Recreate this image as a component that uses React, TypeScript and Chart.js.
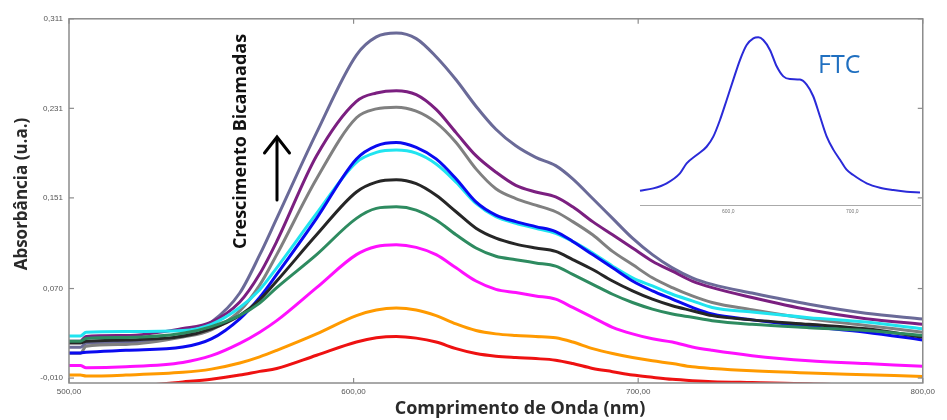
import React, { useEffect, useRef } from "react";
import { Chart, registerables } from "chart.js";

Chart.register(...registerables);

// Wavelength grid (nm)
const wavelengths = [500, 504, 506, 520, 540, 550, 560, 567, 573, 587, 601, 608, 615, 622, 629, 636, 643, 650, 657, 664, 671, 677, 684, 691, 698, 705, 712, 719, 726, 740, 760, 780, 800];

// Absorbance per deposited bilayer (lowest to highest)
const redSeries = [-0.02, -0.02, -0.02, -0.018, -0.0135, -0.011, -0.0073, -0.004, -0.0014, 0.0104, 0.0222, 0.026, 0.0272, 0.0257, 0.0222, 0.0163, 0.0119, 0.0095, 0.0083, 0.0074, 0.006, 0.003, -0.0014, -0.0043, -0.0073, -0.0093, -0.0111, -0.0123, -0.0132, -0.014, -0.015, -0.017, -0.019];
const orangeSeries = [-0.0073, -0.0073, -0.0082, -0.0073, -0.0049, -0.002, 0.0035, 0.009, 0.0148, 0.0295, 0.0458, 0.0508, 0.0525, 0.0508, 0.0458, 0.0384, 0.0325, 0.0295, 0.0281, 0.0272, 0.026, 0.0222, 0.0163, 0.0119, 0.0083, 0.0054, 0.003, 0.0001, -0.0014, -0.0035, -0.0055, -0.007, -0.0085];
const magentaSeries = [0.0013, 0.0013, -0.0008, 0.0001, 0.004, 0.01, 0.021, 0.031, 0.0413, 0.0708, 0.1003, 0.1076, 0.1091, 0.1068, 0.1003, 0.0885, 0.0767, 0.0693, 0.0664, 0.0634, 0.0605, 0.0531, 0.0443, 0.0354, 0.0295, 0.0251, 0.0222, 0.0178, 0.0148, 0.01, 0.0055, 0.003, 0.0005];
const greenSeries = [0.0228, 0.0228, 0.0254, 0.0263, 0.03, 0.036, 0.046, 0.057, 0.0708, 0.1003, 0.1327, 0.1416, 0.143, 0.1401, 0.1312, 0.118, 0.1062, 0.0988, 0.0958, 0.0929, 0.09, 0.0826, 0.0738, 0.0649, 0.0575, 0.0516, 0.0472, 0.0443, 0.0413, 0.038, 0.035, 0.0325, 0.028];
const blackSeries = [0.0213, 0.0213, 0.0228, 0.0241, 0.0273, 0.034, 0.046, 0.06, 0.0767, 0.118, 0.1563, 0.1651, 0.1672, 0.1637, 0.1533, 0.1386, 0.1239, 0.115, 0.1097, 0.1062, 0.1032, 0.0959, 0.087, 0.0767, 0.0679, 0.0605, 0.0546, 0.0502, 0.0458, 0.042, 0.038, 0.034, 0.0266];
const blueSeries = [0.0125, 0.0125, 0.0131, 0.0148, 0.0177, 0.025, 0.043, 0.062, 0.0826, 0.1327, 0.1858, 0.1975, 0.2005, 0.1961, 0.1858, 0.1681, 0.1474, 0.1356, 0.1298, 0.1253, 0.1209, 0.1121, 0.1003, 0.0885, 0.0767, 0.0679, 0.0605, 0.0531, 0.0472, 0.042, 0.036, 0.031, 0.024];
const cyanSeries = [0.0276, 0.0276, 0.031, 0.0316, 0.0325, 0.038, 0.053, 0.069, 0.0885, 0.1371, 0.1828, 0.1916, 0.1937, 0.191, 0.1813, 0.1651, 0.146, 0.1342, 0.1283, 0.1239, 0.1194, 0.1121, 0.1017, 0.09, 0.0796, 0.0723, 0.0649, 0.059, 0.0531, 0.049, 0.044, 0.04, 0.034];
const graySeries = [0.0122, 0.0122, 0.0184, 0.0201, 0.0266, 0.033, 0.05, 0.073, 0.1003, 0.1681, 0.2226, 0.2305, 0.232, 0.2285, 0.2182, 0.2005, 0.1769, 0.1592, 0.1504, 0.1445, 0.1386, 0.1298, 0.118, 0.1032, 0.0914, 0.0796, 0.0708, 0.0634, 0.0575, 0.051, 0.043, 0.037, 0.031];
const purpleSeries = [0.023, 0.023, 0.0272, 0.028, 0.0343, 0.04, 0.058, 0.083, 0.1121, 0.1887, 0.2373, 0.2447, 0.2468, 0.2432, 0.23, 0.2093, 0.1887, 0.174, 0.1622, 0.1563, 0.1519, 0.143, 0.1298, 0.118, 0.1062, 0.0944, 0.0855, 0.0767, 0.0708, 0.062, 0.051, 0.043, 0.038];
const slateSeries = [0.0175, 0.0175, 0.021, 0.022, 0.028, 0.04, 0.066, 0.1, 0.1327, 0.2093, 0.2786, 0.2948, 0.2983, 0.2933, 0.2771, 0.2565, 0.2329, 0.2123, 0.1975, 0.1872, 0.1798, 0.168, 0.1504, 0.1327, 0.115, 0.1003, 0.0885, 0.0796, 0.0737, 0.066, 0.056, 0.048, 0.0428];

const seriesLabels = ["1", "2", "3", "4", "5", "6", "7", "8", "9", "10"];
const seriesColors = ["#ee1111", "#ff9a00", "#ff10ff", "#2e8b60", "#262626", "#0a0af0", "#20e4f0", "#808080", "#7b1f80", "#6a6a98"];
const seriesValues = [redSeries, orangeSeries, magentaSeries, greenSeries, blackSeries, blueSeries, cyanSeries, graySeries, purpleSeries, slateSeries];

const xTicks = [500, 600, 700, 800];
const yTicks = [0.311, 0.231, 0.151, 0.07, -0.01];

// Inset: FTC spectrum (normalised)
const insetWavelengths = [528.8, 539.5, 550.3, 561.0, 566.4, 574.5, 582.5, 587.9, 593.3, 598.7, 604.0, 609.4, 614.8, 620.2, 624.2, 628.2, 633.6, 639.0, 644.4, 649.7, 657.8, 663.2, 668.5, 673.9, 679.3, 684.7, 690.1, 695.4, 700.8, 711.6, 722.3, 733.1, 743.8, 754.6];
const insetFTC = [0.089, 0.103, 0.133, 0.192, 0.251, 0.301, 0.35, 0.41, 0.509, 0.628, 0.747, 0.865, 0.954, 0.994, 1.0, 0.984, 0.925, 0.828, 0.768, 0.752, 0.749, 0.719, 0.65, 0.531, 0.412, 0.333, 0.273, 0.214, 0.182, 0.133, 0.107, 0.093, 0.083, 0.079];
const insetTicks = [600, 700];

const comma = (v: number, d: number) => v.toFixed(d).replace(".", ",");

const framePlugin = {
  id: "framePlugin",
  afterDraw(chart: any) {
    const { ctx, chartArea: a, scales } = chart;
    ctx.save();
    ctx.strokeStyle = "#8c8c8c";
    ctx.lineWidth = 1.5;
    ctx.strokeRect(a.left, a.top, a.right - a.left, a.bottom - a.top);
    ctx.lineWidth = 1.2;
    const line = (x1: number, y1: number, x2: number, y2: number) => {
      ctx.beginPath();
      ctx.moveTo(x1, y1);
      ctx.lineTo(x2, y2);
      ctx.stroke();
    };
    for (const v of yTicks) {
      const y = scales.y.getPixelForValue(v);
      line(a.left, y, a.left + 5, y);
      line(a.right - 5, y, a.right, y);
    }
    for (const v of xTicks) {
      const x = scales.x.getPixelForValue(v);
      line(x, a.bottom, x, a.bottom - 5);
      line(x, a.top, x, a.top + 5);
    }

    // axis titles
    ctx.fillStyle = "#2a2a2a";
    ctx.textAlign = "center";
    ctx.textBaseline = "middle";
    ctx.font = 'bold 18px "Open Sans"';
    ctx.fillText("Comprimento de Onda (nm)", 512, 401);
    ctx.save();
    ctx.translate(14, 186);
    ctx.rotate(-Math.PI / 2);
    ctx.font = 'bold 17px "Open Sans"';
    ctx.fillText("Absorbância (u.a.)", 0, 0);
    ctx.restore();

    // annotation
    ctx.save();
    ctx.translate(232.5, 133.5);
    ctx.rotate(-Math.PI / 2);
    ctx.fillStyle = "#111";
    ctx.font = 'bold 18px "Open Sans"';
    ctx.fillText("Crescimento Bicamadas", 0, 0);
    ctx.restore();

    // arrow
    ctx.strokeStyle = "#000";
    ctx.lineWidth = 3;
    ctx.lineCap = "round";
    line(269, 192, 269, 130);
    ctx.beginPath();
    ctx.moveTo(256.5, 145);
    ctx.lineTo(269, 129);
    ctx.lineTo(281.5, 145);
    ctx.stroke();
    ctx.restore();
  },
};

const insetPlugin = {
  id: "insetPlugin",
  afterDraw(chart: any) {
    const { ctx } = chart;
    ctx.save();
    ctx.fillStyle = "#1f6fc0";
    ctx.font = '25px "Open Sans"';
    ctx.textAlign = "left";
    ctx.textBaseline = "middle";
    ctx.fillText("FTC", 188, 51);
    ctx.restore();
  },
};

export default function App() {
  const mainRef = useRef<HTMLCanvasElement>(null);
  const insetRef = useRef<HTMLCanvasElement>(null);

  useEffect(() => {
    const datasets = seriesValues.map((vals, i) => ({
      label: "Bicamada " + seriesLabels[i],
      data: wavelengths.map((w, j) => ({ x: w, y: vals[j] })),
      borderColor: seriesColors[i],
      backgroundColor: seriesColors[i],
      borderWidth: 3,
      pointRadius: 0,
      cubicInterpolationMode: "monotone" as const,
      fill: false,
    }));

    const main = new Chart(mainRef.current!, {
      type: "line",
      data: { datasets },
      options: {
        responsive: false,
        animation: false,
        devicePixelRatio: 1,
        layout: { padding: { top: 7, right: 6, left: 0, bottom: 0 } },
        plugins: { legend: { display: false }, tooltip: { enabled: false } },
        scales: {
          x: {
            type: "linear",
            min: 500,
            max: 800,
            afterBuildTicks: (s: any) => {
              s.ticks = xTicks.map((v) => ({ value: v }));
            },
            afterFit: (s: any) => {
              s.height = 37;
            },
            grid: { display: false, drawTicks: false },
            border: { display: false },
            ticks: {
              padding: 4,
              color: "#555",
              font: { family: '"Liberation Sans", Arial', size: 8 },
              maxRotation: 0,
              autoSkip: false,
              callback: (v: any) => comma(Number(v), 2),
            },
          },
          y: {
            type: "linear",
            min: -0.0144,
            max: 0.311,
            afterBuildTicks: (s: any) => {
              s.ticks = yTicks.map((v) => ({ value: v }));
            },
            afterFit: (s: any) => {
              s.width = 61;
            },
            grid: { display: false, drawTicks: false },
            border: { display: false },
            ticks: {
              padding: 6,
              color: "#555",
              font: { family: '"Liberation Sans", Arial', size: 8 },
              autoSkip: false,
              callback: (v: any) => comma(Number(v), 3),
            },
          },
        },
      },
      plugins: [framePlugin],
    });

    const inset = new Chart(insetRef.current!, {
      type: "line",
      data: {
        datasets: [
          {
            label: "FTC",
            data: insetWavelengths.map((w, j) => ({ x: w, y: insetFTC[j] })),
            borderColor: "#2a2ad8",
            borderWidth: 2,
            pointRadius: 0,
            cubicInterpolationMode: "monotone" as const,
            fill: false,
            clip: false as any,
          },
        ],
      },
      options: {
        responsive: false,
        animation: false,
        devicePixelRatio: 1,
        layout: { padding: { top: 22.3, right: 10, left: 10, bottom: 0 } },
        plugins: { legend: { display: false }, tooltip: { enabled: false } },
        scales: {
          x: {
            type: "linear",
            min: 528.8,
            max: 754.6,
            afterBuildTicks: (s: any) => {
              s.ticks = insetTicks.map((v) => ({ value: v }));
            },
            afterFit: (s: any) => {
              s.height = 14.3;
            },
            grid: { display: false, drawTicks: false },
            border: { display: true, color: "#aaaaaa", width: 1 },
            ticks: {
              padding: 3,
              color: "#777",
              font: { family: '"Liberation Sans", Arial', size: 5 },
              maxRotation: 0,
              autoSkip: false,
              callback: (v: any) => comma(Number(v), 1),
            },
          },
          y: { display: false, min: 0, max: 1 },
        },
      },
      plugins: [insetPlugin],
    });

    return () => {
      main.destroy();
      inset.destroy();
    };
  }, []);

  return (
    <div style={{ position: "relative", width: 931, height: 412 }}>
      <canvas ref={mainRef} width={931} height={412} style={{ position: "absolute", left: 0, top: 0 }} />
      <canvas ref={insetRef} width={300} height={205} style={{ position: "absolute", left: 622, top: 7 }} />
    </div>
  );
}
